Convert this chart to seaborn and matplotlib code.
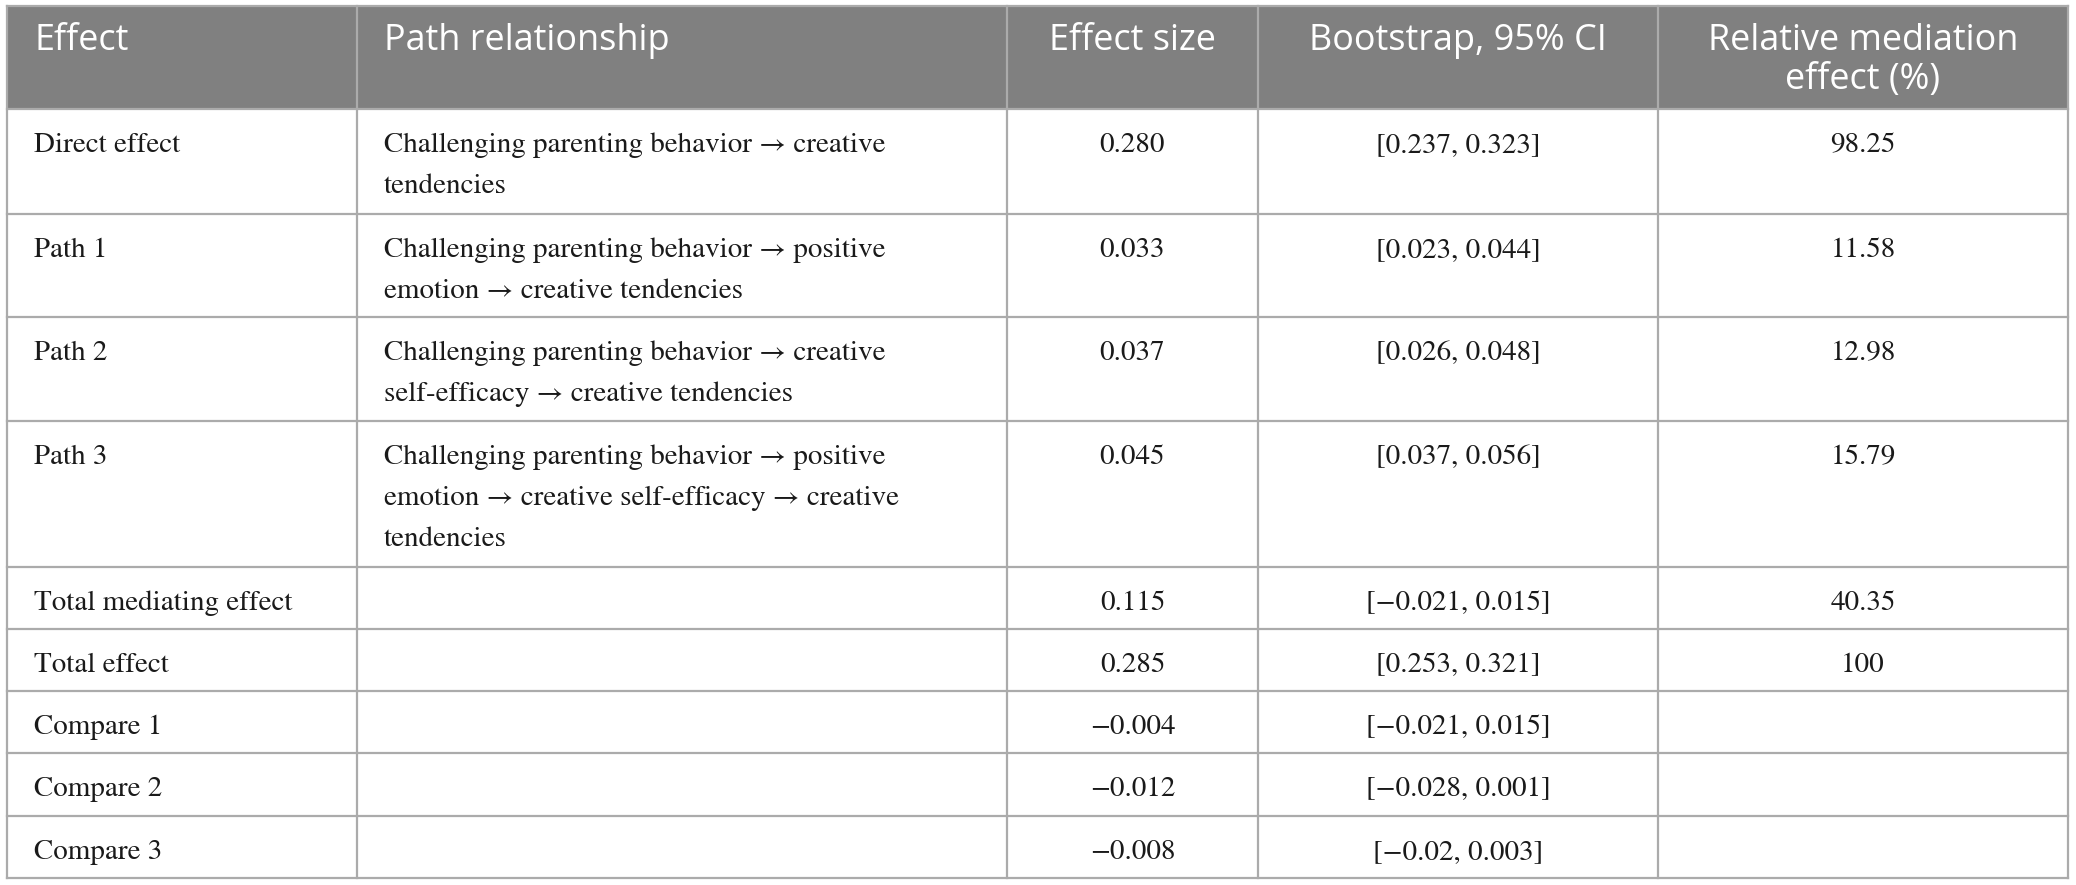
import matplotlib
matplotlib.use("Agg")
import matplotlib.pyplot as plt
import seaborn as sns

# ---------------- data ----------------
headers = ["Effect", "Path relationship", "Effect size",
           "Bootstrap, 95% CI", "Relative mediation\neffect (%)"]
effects = ["Direct effect", "Path 1", "Path 2", "Path 3",
           "Total mediating effect", "Total effect",
           "Compare 1", "Compare 2", "Compare 3"]
paths = [
    "Challenging parenting behavior \u2192 creative\ntendencies",
    "Challenging parenting behavior \u2192 positive\nemotion \u2192 creative tendencies",
    "Challenging parenting behavior \u2192 creative\nself-efficacy \u2192 creative tendencies",
    "Challenging parenting behavior \u2192 positive\nemotion \u2192 creative self-efficacy \u2192 creative\ntendencies",
    "", "", "", "", "",
]
effect_sizes = ["0.280", "0.033", "0.037", "0.045", "0.115", "0.285",
                "\u22120.004", "\u22120.012", "\u22120.008"]
boot_ci = ["[0.237, 0.323]", "[0.023, 0.044]", "[0.026, 0.048]",
           "[0.037, 0.056]", "[\u22120.021, 0.015]", "[0.253, 0.321]",
           "[\u22120.021, 0.015]", "[\u22120.028, 0.001]", "[\u22120.02, 0.003]"]
relative = ["98.25", "11.58", "12.98", "15.79", "40.35", "100", "", "", ""]

# ---------------- layout ----------------
W, H = 2076, 885
col_edges = [7, 357, 1007, 1258, 1658, 2068]
row_edges = [6, 109, 214, 317, 421, 567, 629, 691, 753, 816, 878]
col_align = ["left", "left", "center", "center", "center"]
pad_x = 27
body_px, body_gap, body_base = 29, 41, 43
head_px, head_gap, head_base = 36, 39, 44

sns.set_theme(style="white")
fig = plt.figure(figsize=(W / 100, H / 100), dpi=100)
ax = fig.add_axes([0, 0, 1, 1])
ax.set_xlim(0, W)
ax.set_ylim(H, 0)
ax.axis("off")

serif = ["STIXGeneral", "Liberation Serif", "DejaVu Serif"]
sans = ["Open Sans", "DejaVu Sans"]

# header background
ax.fill_between([col_edges[0], col_edges[-1]], row_edges[0], row_edges[1],
                color="#808080", lw=0, zorder=1)

# grid lines
line_col = "#ababab"
for y in row_edges:
    ax.plot([col_edges[0], col_edges[-1]], [y, y], color=line_col, lw=1.6,
            solid_capstyle="projecting", zorder=2)
for x in col_edges:
    ax.plot([x, x], [row_edges[0], row_edges[-1]], color=line_col, lw=1.6,
            solid_capstyle="projecting", zorder=2)


def put(text, ci, top, px, gap, base, family, color):
    if not text:
        return
    x0, x1 = col_edges[ci], col_edges[ci + 1]
    if col_align[ci] == "left":
        x, ha = x0 + pad_x, "left"
    else:
        x, ha = (x0 + x1) / 2, "center"
    for k, ln in enumerate(text.split("\n")):
        ax.text(x, top + base + k * gap, ln, ha=ha, va="baseline",
                fontsize=px * 0.72, family=family, color=color, zorder=3)


for ci, h in enumerate(headers):
    put(h, ci, row_edges[0], head_px, head_gap, head_base, sans, "white")

columns = [effects, paths, effect_sizes, boot_ci, relative]
for ri in range(len(effects)):
    top = row_edges[ri + 1]
    for ci, col in enumerate(columns):
        put(col[ri], ci, top, body_px, body_gap, body_base, serif, "#1a1a1a")

fig.savefig("out.png", dpi=100)
